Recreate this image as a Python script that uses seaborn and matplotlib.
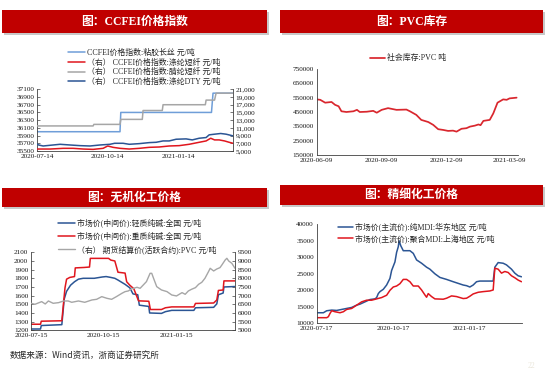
import numpy as np
import pandas as pd
import matplotlib
matplotlib.use("Agg")
import matplotlib.pyplot as plt
import matplotlib.dates as mdates
from matplotlib.patches import Rectangle
from matplotlib.ticker import FuncFormatter
import seaborn as sns

# ---------------- data ----------------
# Panel 1: CCFEI price indices (day offsets from start date)
p1_start = "2020-07-14"
p1_ticks = ["2020-07-14", "2020-10-14", "2021-01-14"]
viscose_days = [0, 108, 109, 227, 229, 255]
viscose_vals = [36000, 36000, 36500, 36500, 37000, 37000]
acrylic_days = [0, 73, 74, 108, 109, 137, 138, 163, 164, 219, 220, 231, 233, 255]
acrylic_vals = [11500, 11500, 11900, 11900, 13200, 13200, 15500, 15500, 17000, 17000,
                18200, 18200, 20000, 20000]
psf_days = [0, 17, 34, 47, 60, 73, 86, 92, 99, 108, 120, 133, 146, 159, 172, 185, 198,
            211, 220, 226, 231, 237, 244, 250, 255]
psf_vals = [5510, 5510, 5690, 5690, 5510, 5420, 5690, 6300, 5950, 5690, 5510, 5690, 5950,
            6040, 6300, 6390, 6740, 7260, 7610, 8310, 7875, 7875, 7610, 7260, 7000]
dty_days = [0, 2, 8, 21, 30, 43, 56, 69, 82, 95, 101, 112, 120, 133, 146, 155, 164, 172,
            181, 194, 202, 211, 220, 224, 231, 239, 246, 255]
dty_vals = [6825, 6560, 6300, 6560, 6740, 6560, 6390, 6300, 6560, 6740, 7000, 7000, 6740,
            6910, 7175, 7260, 7610, 7610, 8050, 8140, 7875, 8310, 8490, 9190, 9360, 9540,
            9360, 8925]
p1_labels = ["CCFEI价格指数:粘胶长丝 元/吨",
             "（右） CCFEI价格指数:涤纶短纤 元/吨",
             "（右） CCFEI价格指数:腈纶短纤 元/吨",
             "（右） CCFEI价格指数:涤纶DTY 元/吨"]

# Panel 2: PVC social inventory
p2_start = "2020-06-09"
p2_ticks = ["2020-06-09", "2020-09-09", "2020-12-09", "2021-03-09"]
pvc_days = [0, 5, 12, 21, 26, 31, 35, 42, 52, 57, 61, 71, 80, 85, 92, 101, 108, 113, 127,
            132, 141, 148, 158, 165, 172, 179, 186, 193, 198, 205, 212, 217, 224, 229, 232,
            236, 245, 250, 256, 264, 269, 273, 283]
pvc_vals = [538000, 535000, 515000, 520000, 500000, 490000, 455000, 450000, 455000, 465000,
            450000, 452000, 458000, 445000, 465000, 477000, 470000, 465000, 467000, 455000,
            430000, 395000, 380000, 360000, 330000, 325000, 318000, 320000, 313000, 333000,
            337000, 348000, 355000, 363000, 358000, 388000, 395000, 440000, 515000, 538000,
            535000, 545000, 550000]
p2_label = "社会库存:PVC 吨"

# Panel 3: inorganic chemicals
p3_start = "2020-07-15"
p3_ticks = ["2020-07-15", "2020-10-15", "2021-01-15"]
light_days = [0, 12, 13, 39, 42, 45, 50, 55, 60, 66, 80, 90, 95, 101, 106, 110, 119, 125,
              129, 135, 137, 149, 150, 165, 170, 178, 206, 208, 231, 235, 237, 243, 244, 258]
light_vals = [1215, 1215, 1255, 1265, 1560, 1650, 1720, 1760, 1790, 1800, 1800, 1815, 1820,
              1810, 1800, 1780, 1730, 1690, 1620, 1610, 1490, 1475, 1400, 1395, 1415, 1430,
              1430, 1460, 1465, 1505, 1610, 1630, 1700, 1705]
dense_days = [0, 12, 13, 39, 41, 43, 45, 49, 55, 56, 67, 74, 75, 98, 101, 106, 110, 119,
              121, 125, 130, 136, 149, 151, 165, 170, 178, 206, 208, 231, 235, 237, 243,
              244, 258]
dense_vals = [1270, 1270, 1305, 1310, 1500, 1690, 1790, 1810, 1820, 1920, 1925, 1930, 2030,
              2030, 2010, 2000, 1870, 1860, 1760, 1720, 1680, 1540, 1535, 1440, 1440, 1460,
              1470, 1470, 1510, 1515, 1550, 1660, 1665, 1770, 1770]
pvcf_days = [0, 5, 13.5, 18, 22, 28, 35, 41, 47, 51.5, 60, 68, 77, 83, 89.5, 96, 102, 108,
             115, 119, 123, 127, 134, 138, 142, 146, 150.6, 152.7, 155, 159, 165, 172, 178,
             184, 191, 195, 199, 203, 208, 212, 216, 220, 224.5, 226.6, 231, 235, 239,
             241.4, 245.6, 247.7, 250, 254, 258]
pvcf_vals = [6558, 6500, 6654, 6519, 6692, 6558, 6596, 6692, 6692, 6615, 6692, 6615, 6750,
             6788, 6942, 6846, 6788, 6942, 7135, 7231, 7269, 7385, 7481, 7423, 7615, 7808,
             8288, 8288, 8000, 7519, 7327, 7231, 7038, 6981, 7173, 7077, 7269, 7365, 7462,
             7654, 7769, 8000, 8385, 8577, 8423, 8538, 8615, 8769, 9058, 9154, 9000, 8865,
             8577]
p3_labels = ["市场价(中间价):轻质纯碱:全国 元/吨",
             "市场价(中间价):重质纯碱:全国 元/吨",
             "（右） 期货结算价(活跃合约):PVC 元/吨"]

# Panel 4: fine chemicals (MDI)
p4_start = "2020-07-17"
p4_ticks = ["2020-07-17", "2020-10-17", "2021-01-17"]
pmdi_days = [0, 8, 12, 18, 24, 30, 36, 42, 48, 52, 58, 64, 70, 72, 74, 76, 80, 84, 88, 90,
             94, 96, 98, 99, 101, 104, 112, 116, 120, 126, 132, 136, 142, 148, 156, 164, 170,
             176, 180, 184, 188, 192, 196, 212, 214, 218, 224, 228, 234, 238, 242, 246]
pmdi_vals = [13200, 13200, 13800, 14000, 13900, 14200, 14500, 14800, 15500, 15800, 16500,
             17200, 17400, 17800, 19000, 19600, 20300, 21600, 23600, 26000, 28600, 31500,
             33200, 35000, 33500, 32000, 32000, 31200, 29200, 28200, 27000, 26400, 25000,
             23900, 23300, 22600, 22100, 21600, 21400, 21000, 21600, 22600, 22800, 22800,
             27000, 28400, 28200, 27700, 26400, 25200, 24400, 24100]
polymdi_days = [0, 12, 14, 16, 18, 22, 28, 32, 36, 42, 48, 54, 60, 66, 72, 78, 84, 88, 92,
                96, 100, 104, 108, 112, 116, 122, 126, 130, 132, 134, 138, 142, 152, 156,
                162, 168, 176, 180, 184, 188, 194, 200, 208, 212, 214, 218, 222, 226, 230,
                234, 238, 242, 246]
polymdi_vals = [11700, 11700, 12000, 13000, 13800, 13500, 13200, 13500, 14200, 14500,
                15500, 16500, 17000, 17000, 17400, 17800, 18500, 20000, 21000, 21300,
                22000, 23300, 23300, 22600, 21300, 21300, 20100, 18600, 17900, 19000,
                18100, 17400, 17300, 17600, 18300, 18100, 17500, 17600, 18200, 18900,
                19400, 19600, 19800, 20100, 26700, 26400, 25200, 25700, 25400, 24400,
                23800, 23100, 22600]
p4_labels = ["市场价(主流价):纯MDI:华东地区 元/吨",
             "市场价(主流价):聚合MDI:上海地区 元/吨"]

titles = ["图：CCFEI价格指数", "图：PVC库存", "图：无机化工价格", "图：精细化工价格"]
source_text = "数据来源：Wind资讯，浙商证券研究所"

# ---------------- styling ----------------
sns.set_theme(style="white")
plt.rcParams["font.family"] = ["Liberation Serif", "Noto Sans CJK SC", "DejaVu Sans"]
LEG_FONT = {"family": ["Liberation Serif", "Noto Sans CJK SC"], "size": 5.7}

W, H = 550, 373
fig = plt.figure(figsize=(5.5, 3.73), dpi=100)
fig.patch.set_facecolor("white")

RED = "#C00000"
C_LBLUE = "#6F9ED8"
C_RED = "#E0161E"
C_GRAY = "#A6A6A6"
C_DBLUE = "#2B5594"


def rect(l, t, r, b):
    return [l / W, 1 - b / H, (r - l) / W, (b - t) / H]


def to_dates(start, days):
    return pd.Timestamp(start) + pd.to_timedelta(np.asarray(days, float), unit="D")


def banner(l, t, r, b, text):
    fig.patches.append(Rectangle(((l + 2) / W, 1 - (b + 2) / H), (r - l) / W, (b - t) / H,
                                 transform=fig.transFigure, facecolor="#C8C8C8",
                                 edgecolor="none", zorder=0))
    fig.patches.append(Rectangle((l / W, 1 - b / H), (r - l) / W, (b - t) / H,
                                 transform=fig.transFigure, facecolor=RED,
                                 edgecolor="none", zorder=1))
    fig.text((l + r) / 2 / W, 1 - (t + b) / 2 / H, text, color="white", fontsize=8.5,
             fontweight="bold", ha="center", va="center",
             family=["Liberation Serif", "Noto Sans CJK SC"], zorder=2)


def style(ax, right_spine=False):
    ax.spines["top"].set_visible(False)
    ax.spines["right"].set_visible(right_spine)
    for s in ax.spines.values():
        s.set_color("#404040")
        s.set_linewidth(0.6)
    ax.tick_params(direction="in", length=2, width=0.5, labelsize=5.2, pad=2,
                   colors="#404040", labelcolor="#1a1a1a")
    ax.set_xlabel("")
    ax.set_ylabel("")
    ax.grid(False)
    ax.set_facecolor("none")


def style_twin(ax):
    for s in ["top", "left", "bottom"]:
        ax.spines[s].set_visible(False)
    ax.spines["right"].set_visible(True)
    ax.spines["right"].set_color("#404040")
    ax.spines["right"].set_linewidth(0.6)
    ax.tick_params(direction="in", length=2, width=0.5, labelsize=5.2, pad=2,
                   colors="#404040", labelcolor="#1a1a1a")
    ax.set_xlabel("")
    ax.set_ylabel("")
    ax.grid(False)


def line(ax, start, days, vals, color, label, lw=1.1):
    df = pd.DataFrame({"date": to_dates(start, days), "value": vals})
    sns.lineplot(data=df, x="date", y="value", ax=ax, color=color, linewidth=lw,
                 legend=False, label=label)
    return ax.get_lines()[-1]


def set_dates(ax, start, end_day, ticks):
    ax.set_xlim(pd.Timestamp(start), pd.Timestamp(start) + pd.Timedelta(days=end_day))
    ax.set_xticks([mdates.date2num(pd.Timestamp(t)) for t in ticks])
    ax.xaxis.set_major_formatter(mdates.DateFormatter("%Y-%m-%d"))


def legend(handles, labels, x, y_top, hl, spacing):
    fig.legend(handles, labels, loc="upper left", bbox_to_anchor=(x / W, 1 - y_top / H),
               frameon=False, prop=LEG_FONT, handlelength=hl, handletextpad=0.25,
               labelspacing=spacing, borderpad=0, borderaxespad=0)


comma = FuncFormatter(lambda v, p: f"{v:,.0f}")

# ---------------- panel 1 ----------------
banner(2, 10, 267, 33, titles[0])
ax1 = fig.add_axes(rect(37, 89.3, 233, 151))
ax1r = ax1.twinx()
h_vis = line(ax1, p1_start, viscose_days, viscose_vals, C_LBLUE, p1_labels[0])
h_psf = line(ax1r, p1_start, psf_days, psf_vals, C_RED, p1_labels[1])
h_acr = line(ax1r, p1_start, acrylic_days, acrylic_vals, C_GRAY, p1_labels[2])
h_dty = line(ax1r, p1_start, dty_days, dty_vals, C_DBLUE, p1_labels[3])
ax1.set_ylim(35500, 37100)
ax1.set_yticks(range(35500, 37101, 200))
ax1r.set_ylim(5000, 21000)
ax1r.set_yticks(range(5000, 21001, 2000))
ax1r.yaxis.set_major_formatter(comma)
set_dates(ax1, p1_start, 255, p1_ticks)
style(ax1, right_spine=False)
style_twin(ax1r)
legend([h_vis, h_psf, h_acr, h_dty], p1_labels, 68, 49, 2.15, 0.18)

# ---------------- panel 2 ----------------
banner(280, 10, 543, 33, titles[1])
ax2 = fig.add_axes(rect(316.7, 69, 518, 155))
h_pvc = line(ax2, p2_start, pvc_days, pvc_vals, "#D9272E", p2_label, lw=1.25)
ax2.set_ylim(150000, 750000)
ax2.set_yticks(range(150000, 750001, 100000))
set_dates(ax2, p2_start, 285, p2_ticks)
style(ax2)
legend([h_pvc], [p2_label], 370, 54.3, 1.9, 0.2)

# ---------------- panel 3 ----------------
banner(2, 188, 267, 207, titles[2])
ax3 = fig.add_axes(rect(31, 252.3, 235, 330.3))
ax3r = ax3.twinx()
h_l = line(ax3, p3_start, light_days, light_vals, C_DBLUE, p3_labels[0])
h_d = line(ax3, p3_start, dense_days, dense_vals, C_RED, p3_labels[1])
h_f = line(ax3r, p3_start, pvcf_days, pvcf_vals, C_GRAY, p3_labels[2], lw=1.0)
ax3.set_ylim(1200, 2100)
ax3.set_yticks(range(1200, 2101, 100))
ax3r.set_ylim(5000, 9500)
ax3r.set_yticks(range(5000, 9501, 500))
set_dates(ax3, p3_start, 258, p3_ticks)
style(ax3)
style_twin(ax3r)
legend([h_l, h_d, h_f], p3_labels, 58, 218.8, 2.15, 0.53)

# ---------------- panel 4 ----------------
banner(280, 185, 543, 205, titles[3])
ax4 = fig.add_axes(rect(316.7, 224.3, 522.3, 323.3))
h_p = line(ax4, p4_start, pmdi_days, pmdi_vals, C_DBLUE, p4_labels[0])
h_q = line(ax4, p4_start, polymdi_days, polymdi_vals, C_RED, p4_labels[1])
ax4.set_ylim(10000, 40000)
ax4.set_yticks(range(10000, 40001, 5000))
set_dates(ax4, p4_start, 247, p4_ticks)
style(ax4)
legend([h_p, h_q], p4_labels, 338, 222.5, 1.9, 0.38)

# ---------------- footer ----------------
fig.text(10 / W, 1 - 355 / H, source_text, fontsize=6.2, color="#262626",
         family=["Noto Sans CJK SC"], ha="left", va="center")
fig.text(531 / W, 1 - 366 / H, "22", fontsize=5.5, color="#EAE6DA", ha="center",
         va="center")

fig.savefig("out.png", dpi=100, facecolor="white")
